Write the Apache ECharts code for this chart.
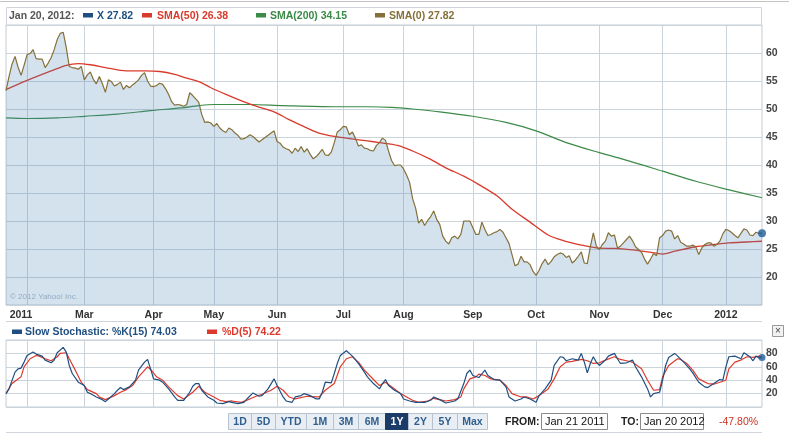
<!DOCTYPE html>
<html><head><meta charset="utf-8">
<script src="https://cdn.jsdelivr.net/npm/echarts@6/dist/echarts.min.js"></script>
<style>html,body{margin:0;padding:0;background:#fff;}#c{width:789px;height:434px;}</style>
</head><body><div id="c"></div>
<script>
// ---------- DATA ----------
const firstDay = '2011-01-21';
const lastDay = '2012-01-20';
const holidays = ['2011-02-21','2011-04-22','2011-05-30','2011-07-04','2011-09-05','2011-11-24','2011-12-26','2012-01-02','2012-01-16'];

// closing price, one value per trading day
const price = [
53.30,55.8,58.0,59.4,57.5,56.0,57.8,59.7,59.9,60.6,
59.0,58.9,58.9,57.4,58.2,59.2,60.6,62.4,63.5,63.7,
61.0,57.6,57.4,57.3,57.1,57.6,55.2,56.1,56.6,55.3,
54.5,55.8,54.5,53.0,55.2,54.9,54.1,54.4,54.8,53.5,
54.2,53.8,54.3,54.7,55.2,56.0,56.5,55.0,54.1,54.0,
54.2,54.6,54.4,53.6,52.6,51.3,50.7,50.8,50.7,50.5,
50.8,52.9,52.4,51.8,51.2,49.0,47.6,47.7,47.5,46.9,
47.4,46.6,46.1,45.8,46.6,46.3,45.7,45.3,44.6,44.7,
45.0,45.4,45.1,44.6,44.1,44.5,44.9,45.3,45.7,46.1,
44.2,43.9,43.2,42.9,42.7,42.1,43.0,42.4,43.3,42.3,
42.9,41.9,41.1,41.5,42.1,42.8,41.8,41.7,42.3,44.0,
45.9,46.3,46.9,46.8,45.4,45.9,44.8,43.4,43.6,43.0,
42.9,42.6,42.5,43.5,44.0,44.8,44.4,42.5,40.8,39.9,
40.0,40.0,39.3,38.2,36.9,34.0,32.3,29.6,30.3,29.2,
30.1,30.8,31.8,30.3,29.4,27.3,26.4,25.9,27.0,27.3,
26.8,27.6,30.0,30.0,30.0,28.8,27.6,27.6,29.8,28.5,
27.4,27.6,27.9,28.1,28.5,28.0,27.0,26.0,24.0,22.0,
22.3,23.7,22.7,22.7,22.2,21.0,20.3,21.2,22.4,23.2,
22.2,22.8,23.6,24.0,24.3,24.1,23.5,23.8,22.5,23.0,
23.7,24.5,22.5,22.4,25.4,27.9,25.5,24.9,25.8,26.4,
27.9,27.3,27.5,25.2,25.5,26.1,26.7,27.3,26.5,25.4,
24.9,24.4,23.2,22.3,23.2,24.2,23.8,27.0,27.4,28.2,
28.4,28.2,26.8,27.4,26.2,25.9,25.5,25.5,25.7,25.4,
24.0,25.2,25.8,26.1,26.1,25.5,25.8,26.4,27.7,28.5,
28.3,27.9,27.4,27.0,27.8,28.6,28.4,27.5,27.4,28.0,
27.8,27.82];

// [trading-day index, value]
const sma50 = [[0,53.45],[7,55.1],[15,56.8],[20,57.8],[24,58.1],[28,57.9],[33,57.4],[40,56.8],[46,56.8],[51,56.7],[56,56.2],[60,55.5],[64,54.9],[68,53.8],[73,52.6],[78,51.5],[83,50.5],[89,49.5],[94,48.1],[100,46.6],[104,45.7],[109,45.1],[113,44.8],[120,44.3],[124,44.0],[130,43.5],[135,42.5],[141,41.0],[146,39.5],[152,38.0],[157,36.5],[163,34.5],[168,32.1],[174,29.8],[180,27.5],[185,26.5],[191,25.7],[196,25.2],[202,25.1],[207,24.9],[213,24.5],[218,24.1],[222,24.6],[229,25.4],[235,25.8],[240,26.1],[246,26.25],[251,26.38]];
const sma200 = [[0,48.4],[7,48.3],[17,48.4],[26,48.7],[37,49.1],[48,49.7],[58,50.2],[64,50.6],[69,50.8],[81,50.8],[92,50.6],[109,50.4],[120,50.4],[128,50.3],[135,50.0],[144,49.5],[155,48.7],[166,47.6],[176,46.1],[186,44.0],[197,42.2],[207,40.7],[218,38.9],[229,37.1],[239,35.7],[251,34.15]];

const stochK = [[0,20],[1,27],[3,52],[4,57],[5,58],[6,67],[7,77],[9,82],[10,79],[12,76],[13,70],[15,66],[16,70],[17,81],[19,89],[20,82],[21,62],[22,50],[24,37],[26,32],[27,22],[28,20],[30,15],[32,11],[33,8],[34,12],[36,20],[37,25],[38,29],[39,26],[41,30],[43,40],[44,55],[46,67],[47,71],[48,57],[49,42],[51,40],[52,37],[54,27],[56,15],[57,10],[59,10],[61,22],[62,31],[63,35],[64,35],[65,25],[67,15],[69,10],[70,6],[72,5],[74,8],[75,7],[77,5],[79,7],[80,12],[82,21],[84,16],[85,17],[87,27],[89,42],[90,32],[92,15],[93,9],[95,7],[96,15],[98,17],[99,20],[101,17],[103,12],[104,12],[105,22],[106,37],[108,36],[109,50],[110,65],[111,77],[113,84],[114,80],[115,76],[117,65],[119,52],[120,45],[122,35],[124,27],[125,35],[126,41],[127,32],[129,25],[131,20],[132,12],[134,9],[136,7],[139,7],[141,10],[142,15],[144,11],[146,6],[149,9],[150,12],[152,35],[153,50],[154,55],[155,47],[157,44],[159,55],[160,47],[162,41],[164,40],[166,30],[167,15],[169,9],[171,12],[172,15],[174,12],[176,7],[177,17],[179,27],[181,40],[182,62],[184,75],[185,74],[186,69],[188,72],[190,70],[191,80],[192,67],[193,51],[194,65],[195,75],[196,67],[197,62],[199,70],[200,76],[202,80],[203,72],[204,65],[206,66],[208,70],[209,60],[211,45],[213,27],[214,15],[215,20],[217,22],[218,40],[219,62],[220,74],[222,80],[223,76],[225,67],[227,57],[228,51],[230,37],[232,30],[233,29],[235,35],[237,41],[238,40],[239,60],[240,75],[242,76],[244,72],[245,81],[247,75],[248,69],[249,76],[250,73],[251,74.03]];
const stochD = [[0,20],[2,35],[5,45],[6,60],[8,72],[10,77],[11,76],[13,72],[15,69],[17,75],[18,80],[20,81],[21,72],[23,55],[25,37],[27,26],[30,20],[31,15],[33,11],[36,17],[38,22],[40,26],[42,32],[44,45],[47,60],[48,56],[50,45],[52,40],[54,30],[57,17],[59,12],[62,22],[64,31],[66,22],[69,15],[71,10],[73,8],[75,9],[78,7],[80,10],[83,16],[85,19],[88,25],[90,31],[92,25],[94,15],[96,12],[100,16],[103,15],[104,15],[106,25],[109,35],[111,60],[113,72],[115,75],[117,67],[119,55],[122,41],[124,32],[126,37],[129,27],[131,20],[133,15],[135,10],[137,7],[140,9],[142,13],[144,11],[146,9],[149,11],[151,15],[152,27],[154,42],[156,45],[157,49],[159,47],[161,42],[164,40],[166,32],[168,20],[171,15],[173,15],[175,12],[177,17],[180,27],[182,42],[184,60],[186,67],[188,68],[191,71],[193,69],[195,65],[197,66],[199,70],[202,75],[204,71],[206,69],[208,67],[211,57],[213,40],[215,25],[217,26],[218,45],[220,62],[223,72],[224,71],[226,65],[228,55],[230,42],[233,35],[235,34],[237,37],[239,40],[240,57],[242,67],[244,70],[246,75],[248,74],[250,76],[251,74.22]];

// axis ticks
const xTickIdx = [5,26,49,69,90,112,132,155,176,197,218,239];
const xTickLabels = ['2011','Mar','Apr','May','Jun','Jul','Aug','Sep','Oct','Nov','Dec','2012'];
const monthGridIdx = [7,26,49,69,90,112,132,155,176,197,218,239];
const priceTicks = [20,25,30,35,40,45,50,55,60];
const stochTicks = [20,40,60,80];
const rangeButtons = ['1D','5D','YTD','1M','3M','6M','1Y','2Y','5Y','Max'];

// ---------- BUILD ----------
function tradingDays(a, b, hol) {
  const out = [];
  let d = new Date(a + 'T00:00:00Z');
  const end = new Date(b + 'T00:00:00Z');
  while (d <= end) {
    const w = d.getUTCDay(), s = d.toISOString().slice(0, 10);
    if (w !== 0 && w !== 6 && hol.indexOf(s) < 0) out.push(s);
    d = new Date(d.getTime() + 86400000);
  }
  return out;
}
const dates = tradingDays(firstDay, lastDay, holidays);
const MON = ['Jan','Feb','Mar','Apr','May','Jun','Jul','Aug','Sep','Oct','Nov','Dec'];
function fmtDate(s, comma) {
  const p = s.split('-');
  return MON[+p[1]-1] + ' ' + (+p[2]) + (comma ? ', ' : ' ') + p[0];
}
const labelMap = {}; xTickIdx.forEach((i, k) => labelMap[i] = xTickLabels[k]);
const tickSet = new Set(xTickIdx), gridSet = new Set(monthGridIdx);
const last = a => a[a.length - 1];
const lastPrice = last(price);
const pct = (lastPrice / price[0] - 1) * 100;

const FF = '"Liberation Sans", Arial, sans-serif';
const GRID = '#cbd3db';
const C_X = '#1f4f80', C_50 = '#d93a2c', C_200 = '#3b8a48', C_0 = '#85703a', C_D = '#dd3a2c';

const els = [];
const T = (text, x, y, fill, size, weight, align) => els.push({type:'text', x, y, silent:true,
  style:{text, fill, font:(weight||'bold') + ' ' + (size||10.5) + 'px ' + FF, textAlign:align||'left', textVerticalAlign:'middle', verticalAlign:'middle'}});
const R = (x, y, w, h, fill, stroke) => els.push({type:'rect', silent:true, shape:{x, y, width:w, height:h},
  style:{fill: fill || 'none', stroke: stroke || null, lineWidth: 1}});
const L = (x1, y1, x2, y2, stroke) => els.push({type:'line', silent:true, shape:{x1, y1, x2, y2}, style:{stroke, lineWidth:1}});

// frame lines
L(0, 1.5, 789, 1.5, '#c4c4c4');
R(6.5, 7.5, 755, 18, null, '#cfd5db');
L(6, 321.5, 762, 321.5, '#cfd5db');
L(6, 432.5, 762, 432.5, '#cfd5db');

// main legend
T(fmtDate(last(dates), true) + ':', 9, 16, '#555');
R(83, 13, 10, 4.5, C_X); T('X ' + lastPrice.toFixed(2), 97, 16, C_X);
R(142, 13, 10, 4.5, C_50); T('SMA(50) ' + last(sma50)[1].toFixed(2), 157, 16, C_50);
R(256, 13, 10, 4.5, C_200); T('SMA(200) ' + last(sma200)[1].toFixed(2), 270, 16, C_200);
R(375, 13, 10, 4.5, C_0); T('SMA(0) ' + lastPrice.toFixed(2), 389, 16, C_0);

// watermark
T('\u00a9 2012 Yahoo! Inc.', 10, 297, '#a9b8c8', 8, 'normal');

// stochastic legend
R(12, 329.5, 10, 4.5, C_X); T('Slow Stochastic: %K(15) ' + last(stochK)[1].toFixed(2), 25, 332, C_X);
R(207, 329.5, 10, 4.5, C_D); T('%D(5) ' + last(stochD)[1].toFixed(2), 222, 332, C_D);
// close box
R(772.5, 325.5, 11, 11, '#f2f2f2', '#999');
T('\u00d7', 778, 331, '#444', 10, 'normal', 'center');

// range buttons
const btnX = [228,251,275,306,333,358,385,408,432,457,487];
rangeButtons.forEach((b, i) => {
  const sel = b === '1Y';
  R(btnX[i] + 0.5, 413.5, btnX[i+1] - btnX[i], 16, sel ? '#1b3c69' : '#e9eef4', sel ? '#1b3c69' : '#b5c3d1');
  T(b, (btnX[i] + btnX[i+1]) / 2 + 0.5, 422, sel ? '#fff' : '#2f5f8f', 10.5, 'bold', 'center');
});
T('FROM:', 505, 422, '#222', 10.5);
R(541.5, 413.5, 66, 16, '#fff', '#8a8a8a');
T(fmtDate(firstDay, false), 545, 422, '#111', 11, 'normal');
T('TO:', 621, 422, '#222', 10.5);
R(640.5, 413.5, 63, 16, '#fff', '#8a8a8a');
T(fmtDate(lastDay, false), 644, 422, '#111', 11, 'normal');
T(pct.toFixed(2) + '%', 719, 422, '#cc3322', 10.5, 'normal');

const xCommon = {
  type: 'category', data: dates, boundaryGap: false,
  axisLine: {show: false}, axisTick: {show: false},
  splitLine: {show: true, interval: (i) => gridSet.has(i), lineStyle: {color: GRID, width: 1}}
};
const yLabel = {color: '#444', fontWeight: 'bold', fontSize: 10.5, fontFamily: FF, margin: 4};

const option = {
  animation: false,
  backgroundColor: '#fff',
  grid: [
    {left: 6, right: 27, top: 25, height: 280, show: true, borderColor: '#c3ccd5', borderWidth: 1},
    {left: 6, right: 27, top: 340, height: 67, show: true, borderColor: '#c3ccd5', borderWidth: 1}
  ],
  xAxis: [
    Object.assign({}, xCommon, {gridIndex: 0,
      axisLabel: {show: true, interval: (i) => tickSet.has(i), formatter: (v, i) => labelMap[i] || '',
        color: '#333', fontWeight: 'bold', fontSize: 10.5, fontFamily: FF, margin: 5}}),
    Object.assign({}, xCommon, {gridIndex: 1, axisLabel: {show: false}})
  ],
  yAxis: [
    {type: 'value', gridIndex: 0, position: 'right', min: 15, max: 65, interval: 5,
     axisLine: {show: false}, axisTick: {show: false},
     axisLabel: Object.assign({}, yLabel, {formatter: v => priceTicks.indexOf(v) >= 0 ? String(v) : ''}),
     splitLine: {lineStyle: {color: GRID}}},
    {type: 'value', gridIndex: 1, position: 'right', min: 0, max: 100, interval: 20,
     axisLine: {show: false}, axisTick: {show: false},
     axisLabel: Object.assign({}, yLabel, {formatter: v => stochTicks.indexOf(v) >= 0 ? String(v) : ''}),
     splitLine: {lineStyle: {color: GRID}}}
  ],
  series: [
    {type: 'line', name: 'X', xAxisIndex: 0, yAxisIndex: 0, data: price, showSymbol: false,
     lineStyle: {color: C_0, width: 1.2}, areaStyle: {color: 'rgba(70,130,180,0.23)', opacity: 1}, z: 3},
    {type: 'line', name: 'SMA(200)', xAxisIndex: 0, yAxisIndex: 0, data: sma200, showSymbol: false, smooth: 0.3,
     lineStyle: {color: C_200, width: 1.2}, z: 2},
    {type: 'line', name: 'SMA(50)', xAxisIndex: 0, yAxisIndex: 0, data: sma50, showSymbol: false, smooth: 0.3,
     lineStyle: {color: C_50, width: 1.3}, z: 2},
    {type: 'scatter', xAxisIndex: 0, yAxisIndex: 0, data: [[price.length - 1, lastPrice]], symbolSize: 8,
     itemStyle: {color: '#1f5c99'}, z: 5},
    {type: 'line', name: '%D', xAxisIndex: 1, yAxisIndex: 1, data: stochD, showSymbol: false,
     lineStyle: {color: C_D, width: 1.2}, z: 2},
    {type: 'line', name: '%K', xAxisIndex: 1, yAxisIndex: 1, data: stochK, showSymbol: false,
     lineStyle: {color: C_X, width: 1.2}, z: 3},
    {type: 'scatter', xAxisIndex: 1, yAxisIndex: 1, data: [last(stochK)], symbolSize: 7,
     itemStyle: {color: '#1f5c99'}, z: 5}
  ],
  graphic: {elements: els}
};
const chart = echarts.init(document.getElementById('c'), null, {renderer: 'canvas'});
chart.setOption(option);
</script>
</body></html>
